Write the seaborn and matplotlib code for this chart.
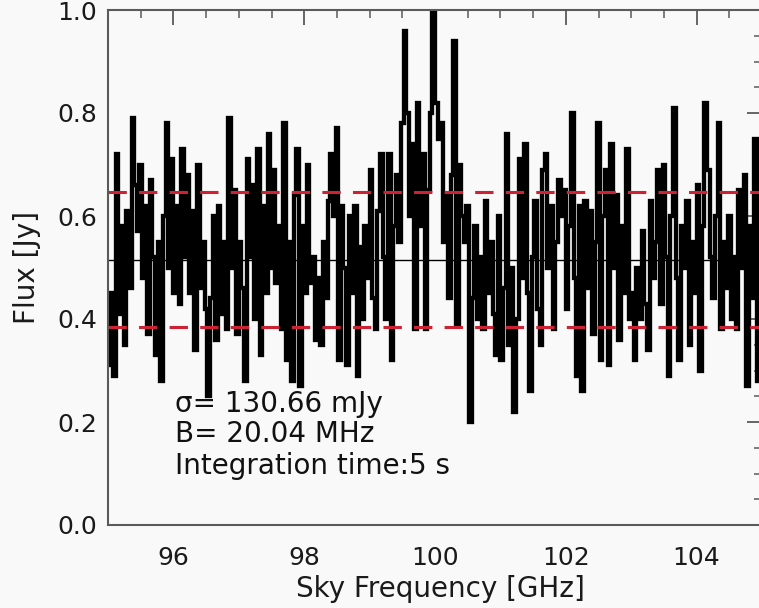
import numpy as np
import pandas as pd
import matplotlib
matplotlib.use("Agg")
import matplotlib.pyplot as plt
import seaborn as sns
from matplotlib.ticker import MultipleLocator

# ---- data ----
freq_start_ghz = 95.0
channel_width_ghz = 0.04
flux_jy = [
    0.31, 0.45, 0.29, 0.72, 0.41, 0.58, 0.35, 0.61, 0.46, 0.79,
    0.66, 0.57, 0.70, 0.48, 0.62, 0.37, 0.67, 0.52, 0.33, 0.55,
    0.28, 0.60, 0.78, 0.50, 0.71, 0.45, 0.62, 0.43, 0.73, 0.52,
    0.68, 0.45, 0.61, 0.34, 0.70, 0.46, 0.55, 0.42, 0.25, 0.44,
    0.60, 0.36, 0.62, 0.41, 0.55, 0.38, 0.79, 0.50, 0.65, 0.37,
    0.55, 0.46, 0.28, 0.71, 0.52, 0.66, 0.40, 0.73, 0.33, 0.62,
    0.45, 0.76, 0.50, 0.69, 0.47, 0.58, 0.38, 0.78, 0.32, 0.55,
    0.28, 0.64, 0.73, 0.27, 0.58, 0.45, 0.70, 0.47, 0.52, 0.36,
    0.48, 0.35, 0.55, 0.44, 0.63, 0.72, 0.60, 0.77, 0.32, 0.62,
    0.50, 0.31, 0.60, 0.45, 0.62, 0.29, 0.54, 0.40, 0.58, 0.48,
    0.69, 0.44, 0.38, 0.61, 0.72, 0.52, 0.40, 0.72, 0.32, 0.58,
    0.68, 0.55, 0.78, 0.96, 0.80, 0.60, 0.74, 0.38, 0.82, 0.58,
    0.72, 0.38, 0.65, 0.80, 1.00, 0.82, 0.75, 0.78, 0.55, 0.64,
    0.44, 0.68, 0.94, 0.39, 0.70, 0.60, 0.55, 0.62, 0.20, 0.44,
    0.58, 0.40, 0.52, 0.38, 0.63, 0.45, 0.55, 0.41, 0.33, 0.60,
    0.32, 0.46, 0.76, 0.35, 0.50, 0.22, 0.40, 0.71, 0.48, 0.74,
    0.45, 0.26, 0.52, 0.63, 0.42, 0.35, 0.69, 0.72, 0.50, 0.62,
    0.38, 0.55, 0.67, 0.60, 0.65, 0.42, 0.58, 0.80, 0.48, 0.29,
    0.62, 0.26, 0.63, 0.46, 0.61, 0.37, 0.55, 0.78, 0.32, 0.60,
    0.69, 0.31, 0.74, 0.50, 0.64, 0.36, 0.58, 0.45, 0.73, 0.40,
    0.45, 0.32, 0.50, 0.40, 0.57, 0.43, 0.34, 0.63, 0.48, 0.55,
    0.69, 0.43, 0.70, 0.52, 0.29, 0.60, 0.81, 0.48, 0.32, 0.58,
    0.50, 0.63, 0.35, 0.55, 0.45, 0.66, 0.30, 0.58, 0.82, 0.69,
    0.52, 0.44, 0.60, 0.78, 0.38, 0.55, 0.46, 0.60, 0.40, 0.52,
    0.38, 0.65, 0.50, 0.68, 0.27, 0.58, 0.44, 0.75, 0.28, 0.55,
]
mean_level_jy = 0.515
sigma_jy = 0.13066
annotations = ["σ= 130.66 mJy", "B= 20.04 MHz", "Integration time:5 s"]
x_ticks = [96, 98, 100, 102, 104]
y_ticks = [0.0, 0.2, 0.4, 0.6, 0.8, 1.0]
x_label = "Sky Frequency [GHz]"
y_label = "Flux [Jy]"

freq = freq_start_ghz + channel_width_ghz * (np.arange(len(flux_jy)) + 0.5)
df = pd.DataFrame({"freq": freq, "flux": flux_jy})

# ---- style ----
sns.set_style("white")
plt.rcParams["font.family"] = ["DejaVu Sans"]
bg = "#f9f9f9"
axis_col = "#5a5a5a"
txt_col = "#1a1a1a"

fig = plt.figure(figsize=(7.59, 6.08), dpi=100, facecolor=bg)
W, H = 759, 608
left, right, top, bottom = 108, 762, 10, 525
ax = fig.add_axes([left / W, (H - bottom) / H, (right - left) / W, (bottom - top) / H])
ax.set_facecolor(bg)

sns.lineplot(data=df, x="freq", y="flux", ax=ax, color="black", linewidth=3.1,
             drawstyle="steps-mid", estimator=None, sort=True,
             solid_joinstyle="miter", solid_capstyle="butt")

ax.axhline(mean_level_jy, color="black", linewidth=1.0)
for s in (+1, -1):
    ax.axhline(mean_level_jy + s * sigma_jy, color="#cc2233", linewidth=2.2,
               dashes=(6, 4))

ax.set_xlim(95, 105)
ax.set_ylim(0, 1.0)
ax.xaxis.set_minor_locator(MultipleLocator(0.5))
ax.yaxis.set_minor_locator(MultipleLocator(0.05))
ax.set_xticks(x_ticks)
ax.set_xticklabels([str(t) for t in x_ticks])
ax.set_yticks(y_ticks)
ax.set_yticklabels([f"{t:.1f}" for t in y_ticks])

ax.tick_params(which="both", direction="in", top=True, right=True,
               color=axis_col, labelcolor=txt_col, labelsize=18)
ax.tick_params(which="major", length=11, width=1.3)
ax.tick_params(which="minor", length=6, width=1.1)
ax.tick_params(axis="x", which="major", pad=15)
ax.tick_params(axis="y", which="major", pad=8)
for sp in ax.spines.values():
    sp.set_visible(True)
    sp.set_color(axis_col)
    sp.set_linewidth(1.5)

ax.set_xlabel(x_label, fontsize=20, color=txt_col)
ax.xaxis.set_label_coords(0.509, -0.098)
ax.set_ylabel(y_label, fontsize=20, color=txt_col)
ax.yaxis.set_label_coords(-0.102, 0.5)

for txt, yv in zip(annotations, (0.219, 0.161, 0.100)):
    ax.text(96.03, yv, txt, fontsize=20, color="#111111", va="baseline", ha="left")

fig.savefig("out.png", dpi=100, facecolor=bg)
